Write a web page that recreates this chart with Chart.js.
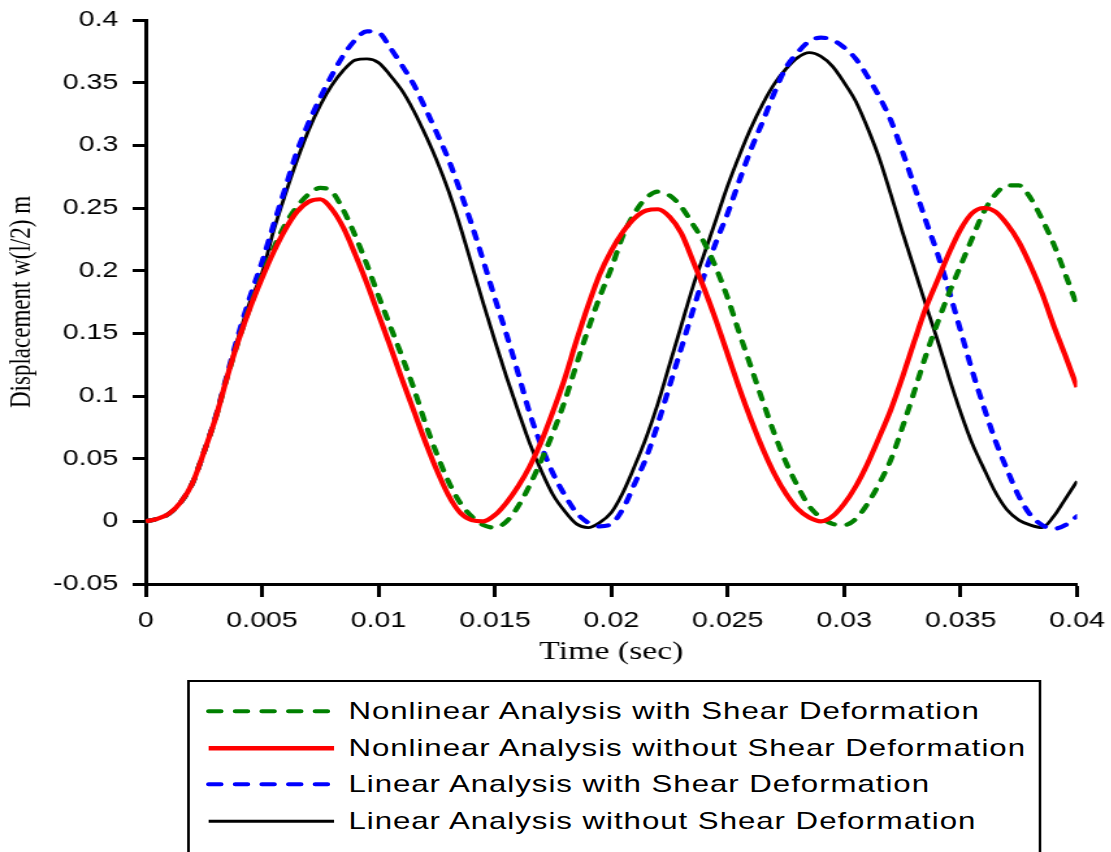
<!DOCTYPE html>
<html>
<head>
<meta charset="utf-8">
<script src="https://cdn.jsdelivr.net/npm/chart.js@4.4.1/dist/chart.umd.min.js"></script>
<style>
  html, body { margin: 0; padding: 0; background: #fff; overflow: hidden; width: 1111px; height: 852px; }
  #wrap { position: absolute; left: 0; top: 0; width: 855px; height: 852px; transform: scaleX(1.3); transform-origin: 0 0; }
  #c { position: absolute; left: 0; top: 0; }
  #legend { position: absolute; left: 144px; top: 680px; width: 657px; height: 220px; border: 2px solid #000; box-sizing: border-box; padding-top: 11px; background: #fff; }
  .row { position: relative; height: 36.6px; }
  .row svg { position: absolute; left: 12px; top: 0; }
  .row span { position: absolute; left: 122px; top: 50%; transform: translateY(-50%); font-family: "Liberation Sans", Arial, sans-serif; font-size: 24px; letter-spacing: 0.75px; color: #000; white-space: nowrap; }
</style>
</head>
<body>
<div id="wrap">
  <canvas id="c" width="855" height="852"></canvas>
  <div id="legend"></div>
</div>
<script>
const times = [0,0.0005,0.001,0.0015,0.002,0.0025,0.003,0.0035,0.004,0.0045,
  0.005,0.0055,0.006,0.0065,0.007,0.0075,0.008,0.0085,0.009,0.0095,
  0.01,0.0105,0.011,0.0115,0.012,0.0125,0.013,0.0135,0.014,0.0145,
  0.015,0.0155,0.016,0.0165,0.017,0.0175,0.018,0.0185,0.019,0.0195,
  0.02,0.0205,0.021,0.0215,0.022,0.0225,0.023,0.0235,0.024,0.0245,
  0.025,0.0255,0.026,0.0265,0.027,0.0275,0.028,0.0285,0.029,0.0295,
  0.03,0.0305,0.031,0.0315,0.032,0.0325,0.033,0.0335,0.034,0.0345,
  0.035,0.0355,0.036,0.0365,0.037,0.0375,0.038,0.0385,0.039,0.0395,
  0.04];

const nonlinearShear = [0,0.002,0.006,0.015,0.030,0.055,0.082,0.115,0.145,0.172,
  0.196,0.218,0.237,0.251,0.261,0.266,0.263,0.248,0.228,0.205,
  0.180,0.156,0.132,0.107,0.079,0.054,0.032,0.015,0.004,-0.003,
  -0.005,0.000,0.012,0.029,0.049,0.071,0.096,0.125,0.153,0.179,
  0.202,0.228,0.246,0.258,0.263,0.260,0.251,0.237,0.222,0.202,
  0.178,0.150,0.123,0.096,0.070,0.047,0.028,0.012,0.003,-0.002,
  -0.003,0.002,0.014,0.030,0.049,0.075,0.103,0.132,0.158,0.182,
  0.204,0.226,0.247,0.261,0.268,0.268,0.258,0.241,0.221,0.197,
  0.172];

const nonlinearNoShear = [0,0.002,0.006,0.015,0.030,0.055,0.082,0.115,0.145,0.171,
  0.194,0.215,0.233,0.247,0.255,0.257,0.249,0.234,0.213,0.190,
  0.165,0.140,0.114,0.089,0.064,0.041,0.021,0.007,0.001,0.000,
  0.005,0.015,0.028,0.044,0.064,0.088,0.114,0.144,0.172,0.197,
  0.216,0.231,0.242,0.248,0.249,0.243,0.230,0.208,0.185,0.160,
  0.133,0.106,0.081,0.058,0.038,0.022,0.010,0.003,0.000,0.004,
  0.014,0.028,0.046,0.067,0.089,0.115,0.143,0.170,0.192,0.214,
  0.233,0.246,0.250,0.247,0.237,0.223,0.204,0.182,0.156,0.132,
  0.107];

const linearShear = [0,0.002,0.006,0.015,0.030,0.055,0.083,0.117,0.150,0.180,
  0.207,0.237,0.266,0.295,0.318,0.338,0.356,0.372,0.384,0.391,
  0.390,0.378,0.364,0.349,0.330,0.310,0.289,0.264,0.237,0.208,
  0.178,0.149,0.118,0.086,0.060,0.038,0.021,0.007,-0.001,-0.004,
  -0.002,0.010,0.030,0.051,0.078,0.108,0.138,0.168,0.197,0.223,
  0.246,0.272,0.297,0.319,0.342,0.362,0.374,0.383,0.386,0.384,
  0.378,0.369,0.355,0.339,0.320,0.295,0.268,0.240,0.214,0.184,
  0.152,0.120,0.091,0.064,0.041,0.020,0.005,-0.003,-0.006,-0.003,
  0.004];

const linearNoShear = [0,0.002,0.006,0.015,0.030,0.055,0.083,0.116,0.148,0.176,
  0.198,0.232,0.261,0.288,0.312,0.332,0.348,0.360,0.368,0.369,
  0.366,0.356,0.344,0.328,0.309,0.288,0.264,0.236,0.205,0.174,
  0.144,0.115,0.088,0.062,0.040,0.021,0.008,-0.002,-0.005,-0.001,
  0.007,0.023,0.044,0.067,0.094,0.125,0.156,0.187,0.214,0.241,
  0.268,0.292,0.314,0.333,0.349,0.361,0.370,0.374,0.371,0.363,
  0.350,0.335,0.314,0.290,0.261,0.231,0.202,0.173,0.145,0.115,
  0.087,0.062,0.042,0.023,0.009,0.001,-0.003,-0.005,0.004,0.018,
  0.032];

const seriesLabels = [
  "Nonlinear Analysis with Shear Deformation",
  "Nonlinear Analysis without Shear Deformation",
  "Linear Analysis with Shear Deformation",
  "Linear Analysis without Shear Deformation"
];
const xTickLabels = ["0","0.005","0.01","0.015","0.02","0.025","0.03","0.035","0.04"];
const yTickLabels = ["-0.05","0","0.05","0.1","0.15","0.2","0.25","0.3","0.35","0.4"];
const xTitle = "Time (sec)";
const yTitle = "Displacement w(l/2) m";

function pts(vals) { return times.map((t, i) => ({ x: t, y: vals[i] })); }

const styles = [
  { color: "#008000", width: 4.2, dash: [7.5, 10], order: 1 },
  { color: "#ff0000", width: 4.2, dash: [], order: 0 },
  { color: "#0000ff", width: 4.2, dash: [7.5, 10], order: 2 },
  { color: "#000000", width: 2.8, dash: [], order: 3 }
];
const seriesValues = [nonlinearShear, nonlinearNoShear, linearShear, linearNoShear];

const datasets = seriesValues.map((v, i) => ({
  label: seriesLabels[i],
  data: pts(v),
  borderColor: styles[i].color,
  backgroundColor: styles[i].color,
  borderWidth: styles[i].width,
  borderDash: styles[i].dash,
  borderCapStyle: styles[i].dash.length ? "round" : "butt",
  borderJoinStyle: "round",
  pointRadius: 0,
  fill: false,
  cubicInterpolationMode: "monotone",
  order: styles[i].order
}));

const sans = "'Liberation Sans', Arial, sans-serif";
const serif = "'Liberation Serif', 'Times New Roman', serif";

new Chart(document.getElementById("c"), {
  type: "line",
  data: { datasets },
  options: {
    responsive: false,
    animation: false,
    devicePixelRatio: 1,
    layout: { padding: { top: 20, right: 26.5, bottom: 178, left: 0 } },
    plugins: { legend: { display: false }, tooltip: { enabled: false } },
    scales: {
      x: {
        type: "linear",
        min: 0, max: 0.04,
        afterFit: s => { s.height = 90; s.paddingRight = 0; s.paddingLeft = 0; },
        ticks: {
          stepSize: 0.005,
          color: "#000",
          font: { family: sans, size: 22 },
          padding: 11,
          maxRotation: 0,
          autoSkip: false,
          callback: (v, i) => xTickLabels[i]
        },
        grid: { drawOnChartArea: false, drawTicks: true, tickLength: 13, tickWidth: 3, tickColor: "#000" },
        border: { display: true, color: "#000", width: 3 },
        title: { display: true, text: xTitle, color: "#000", font: { family: serif, size: 26 }, padding: { top: 0, bottom: 6 } }
      },
      y: {
        type: "linear",
        min: -0.05, max: 0.4,
        afterFit: s => { s.width = 112; s.paddingTop = 0; s.paddingBottom = 0; },
        ticks: {
          stepSize: 0.05,
          color: "#000",
          font: { family: sans, size: 22 },
          padding: 11,
          autoSkip: false,
          callback: (v, i) => yTickLabels[i]
        },
        grid: { drawOnChartArea: false, drawTicks: true, tickLength: 10, tickWidth: 3, tickColor: "#000" },
        border: { display: true, color: "#000", width: 3 },
        title: { display: true, text: yTitle, color: "#000", font: { family: serif, size: 23 }, padding: { top: 3, bottom: 0 } }
      }
    }
  }
});

// HTML legend built from the same series definitions
const legend = document.getElementById("legend");
seriesLabels.forEach((lab, i) => {
  const row = document.createElement("div");
  row.className = "row";
  const st = styles[i];
  const svgNS = "http://www.w3.org/2000/svg";
  const svg = document.createElementNS(svgNS, "svg");
  svg.setAttribute("width", "102");
  svg.setAttribute("height", "36.6");
  const line = document.createElementNS(svgNS, "line");
  line.setAttribute("x1", "2.5");
  line.setAttribute("x2", "99");
  line.setAttribute("y1", "18.3");
  line.setAttribute("y2", "18.3");
  line.setAttribute("stroke", st.color);
  line.setAttribute("stroke-width", st.dash.length ? "4" : (i === 1 ? "4.5" : "3"));
  if (st.dash.length) {
    line.setAttribute("stroke-dasharray", "9.5 11");
    line.setAttribute("stroke-linecap", "round");
  }
  svg.appendChild(line);
  const span = document.createElement("span");
  span.textContent = lab;
  row.appendChild(svg);
  row.appendChild(span);
  legend.appendChild(row);
});
</script>
</body>
</html>
